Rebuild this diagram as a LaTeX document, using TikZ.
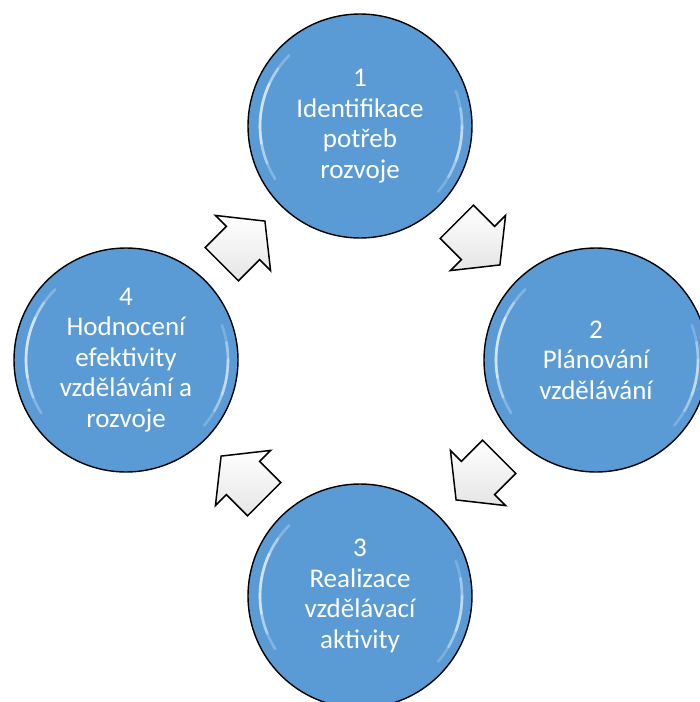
\documentclass[tikz,border=0pt]{standalone}
\usepackage{fontspec}
\setmainfont{Carlito}
\usetikzlibrary{calc}
\definecolor{cblue}{HTML}{5B9BD5}
\definecolor{arrfill}{HTML}{F0F0F0}
\begin{document}
\begin{tikzpicture}[x=1pt,y=-1pt,
  stage/.style={circle, draw=black, line width=1.4pt, fill=cblue, minimum size=224pt,
    inner sep=0pt, text=white, align=center, font=\fontsize{27}{30.5}\selectfont},
  blockarrow/.style={draw=black, line width=1.5pt, line join=miter,
    top color=white, bottom color=arrfill!90!gray},
  gloss/.style={white, line width=2.6pt, line cap=round}
]
\useasboundingbox (0,0) rectangle (700,702);
\clip (0,0) rectangle (700,702);
% stages
\node[stage] (s1) at (360,126) {1\\Identifikace\\potřeb\\rozvoje};
\node[stage] (s2) at (596,360) {2\\Plánování\\vzdělávání};
\node[stage] (s3) at (360,596) {3\\Realizace\\vzdělávací\\aktivity};
\node[stage] (s4) at (126,360) {4\\Hodnocení\\efektivity\\vzdělávání a\\rozvoje};
% glossy highlights
\foreach \n in {s1,s2,s3,s4}{
  \foreach \o/\a/\b in {0.25/-135/-212, 0.35/-145/-202, 0.45/-155/-190}{
    \draw[gloss, opacity=\o] ($(\n)+(\a:100)$) arc[start angle=\a, end angle=\b, radius=100];
  }
  \foreach \o/\a/\b in {0.2/-20/40, 0.3/-10/30, 0.35/0/20}{
    \draw[gloss, opacity=\o] ($(\n)+(\a:102)$) arc[start angle=\a, end angle=\b, radius=102];
  }
}
% block arrows between stages
\foreach \p/\q/\r in {s4/s1/45, s1/s2/-45, s2/s3/-135, s3/s4/135}{
  \begin{scope}[shift={($(\p)!0.5!(\q)$)}, rotate=\r]
    \draw[blockarrow] (-30,-23.5) -- (0,-23.5) -- (0,-39) -- (31,0) -- (0,39)
      -- (0,23.5) -- (-30,23.5) -- cycle;
  \end{scope}
}
\end{tikzpicture}
\end{document}
